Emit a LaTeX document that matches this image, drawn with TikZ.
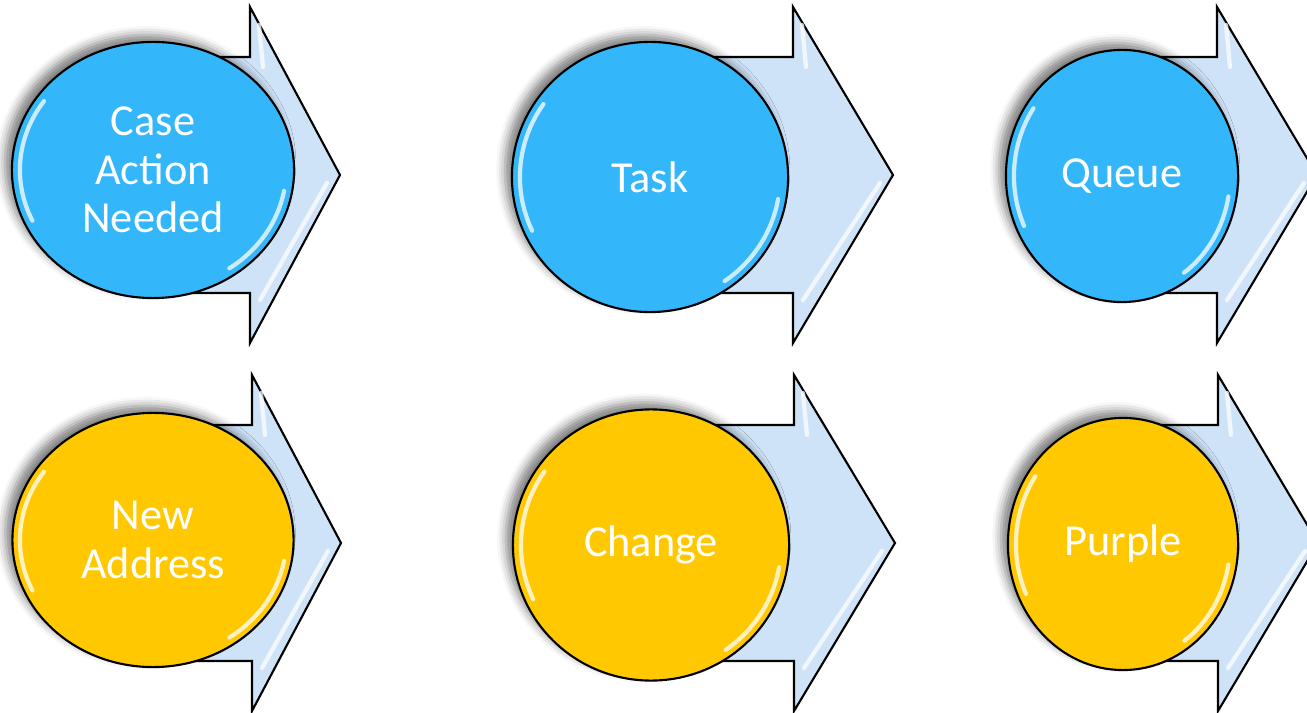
\documentclass[tikz,border=0pt]{standalone}
\usepackage{fontspec}
\setmainfont{Carlito}
\usepackage{tikz}
\usetikzlibrary{shapes.geometric,shadows.blur}

\definecolor{ballblue}{RGB}{51,182,250}
\definecolor{ballgold}{RGB}{255,200,0}
\definecolor{arrowfill}{RGB}{207,227,248}

\begin{document}
\begin{tikzpicture}[x=0.01cm,y=-0.01cm,
  arrowbody/.style={draw=black,line width=0.6pt,fill=arrowfill,line join=miter},
  ball/.style={ellipse,draw=black,line width=0.6pt,inner sep=0pt,text=white,align=center,
    font=\fontsize{12.6}{13.8}\selectfont,
    blur shadow={shadow xshift=-2pt,shadow yshift=2pt,shadow blur radius=2.5pt,shadow opacity=50}},
  gloss/.style={white,line width=1.2pt,line cap=round,opacity=.75}]
\useasboundingbox (0,0) rectangle (1307,713);
\clip (0,0) rectangle (1307,713);
% block arrows behind the balls
\foreach \sx/\hx/\tx/\cy in {154/250/340/175,650/793/893/175,1122/1217/1317/175,
                             155/252/341/543,651/794/895/543,1123/1218/1318/543}{
  \draw[arrowbody] (\sx,\cy-118) -- (\hx,\cy-118) -- (\hx,\cy-168) -- (\tx,\cy)
    -- (\hx,\cy+168) -- (\hx,\cy+118) -- (\sx,\cy+118) -- cycle;
  \draw[gloss] (\hx+9,\cy-150) -- (\hx+13,\cy-108);
  \draw[gloss] (\tx-13,\cy+8) -- (\hx+10,\cy+125);
}
% top row
\node[ball,fill=ballblue,minimum width=2.82cm,minimum height=2.56cm] (caseact) at (153,170) {Case\\Action\\Needed};
\node[ball,fill=ballblue,minimum width=2.76cm,minimum height=2.70cm] (task) at (650,177) {Task};
\node[ball,fill=ballblue,minimum width=2.32cm,minimum height=2.52cm] (queue) at (1122,176) {Queue};
% bottom row
\node[ball,fill=ballgold,minimum width=2.81cm,minimum height=2.54cm] (newaddr) at (153,540) {New\\Address};
\node[ball,fill=ballgold,minimum width=2.76cm,minimum height=2.71cm] (change) at (651,545) {Change};
\node[ball,fill=ballgold,minimum width=2.30cm,minimum height=2.52cm] (purple) at (1123,544) {Purple};
% shine on the balls
\foreach \n/\rx/\ry in {caseact/1.33cm/1.20cm,task/1.30cm/1.27cm,queue/1.08cm/1.18cm,
                        newaddr/1.33cm/1.19cm,change/1.30cm/1.28cm,purple/1.07cm/1.18cm}{
  \draw[gloss] ([shift={(145:{\rx} and {\ry})}]\n.center) arc[start angle=145,end angle=205,x radius=\rx,y radius=\ry];
  \draw[gloss] ([shift={(-10:{\rx} and {\ry})}]\n.center) arc[start angle=-10,end angle=-55,x radius=\rx,y radius=\ry];
}
\end{tikzpicture}
\end{document}
